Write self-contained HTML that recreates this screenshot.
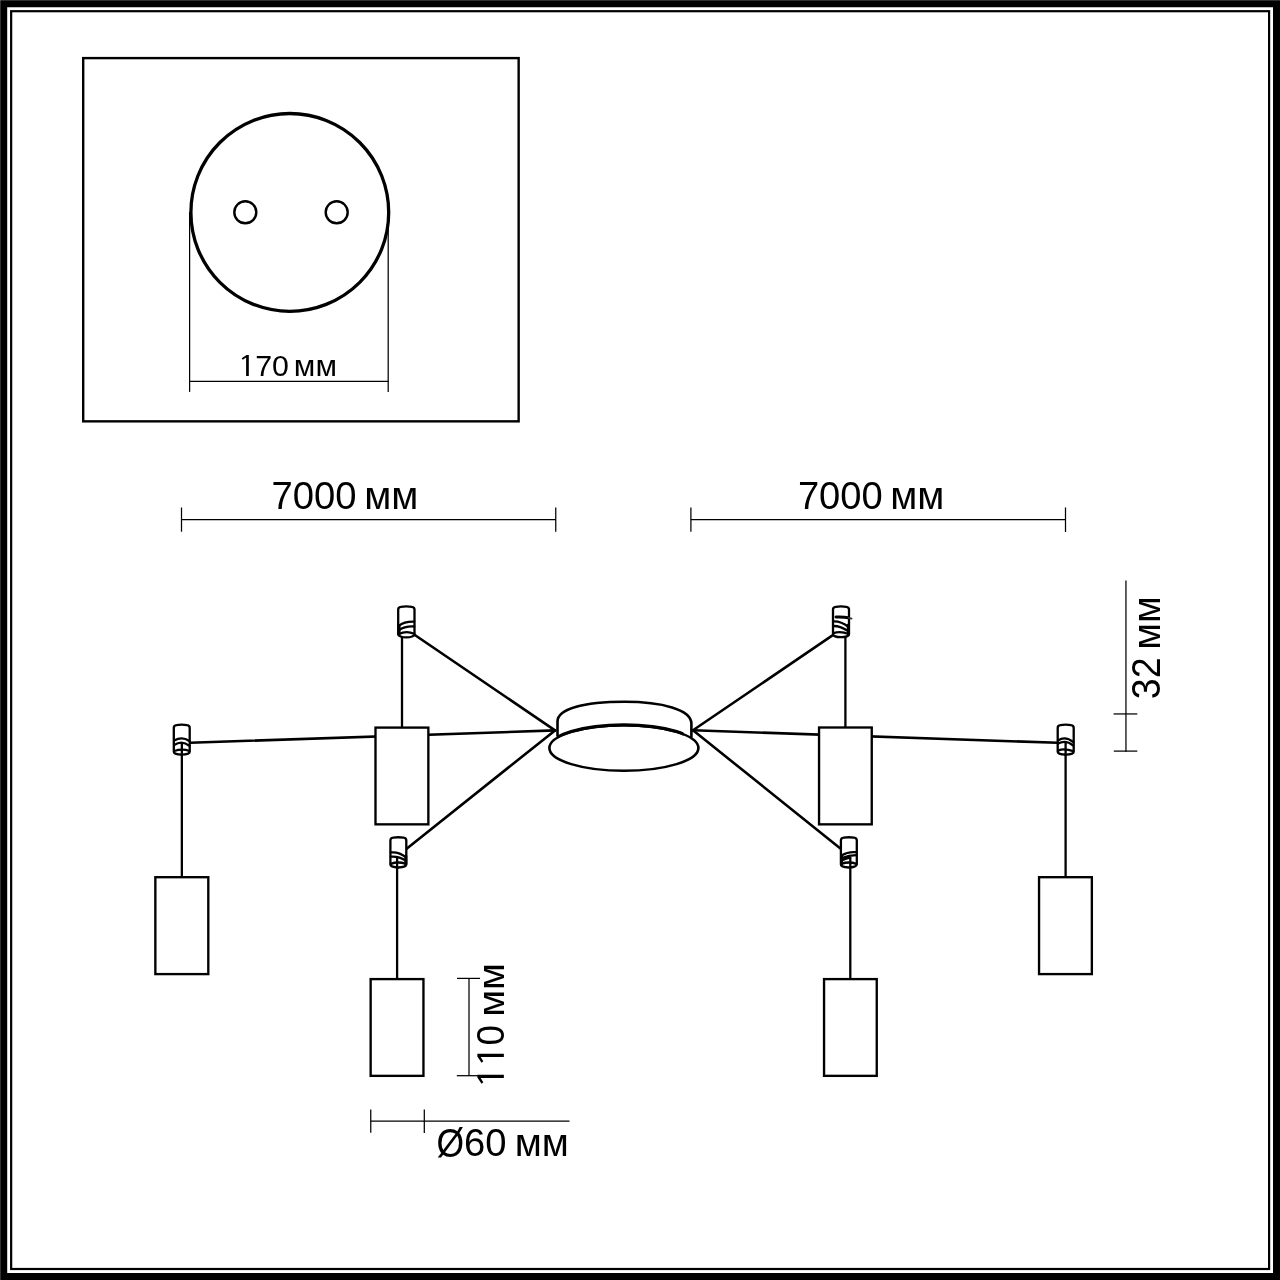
<!DOCTYPE html>
<html lang="ru">
<head>
<meta charset="utf-8">
<title>Схема светильника</title>
<style>
  html, body { margin: 0; padding: 0; background: #fff; }
  body { width: 1280px; height: 1280px; overflow: hidden; }
  svg { display: block; will-change: transform; }
  text { font-family: "Liberation Sans", sans-serif; fill: #000; }
  .m { fill: none; stroke: #000; stroke-width: 2.6; stroke-linecap: round; stroke-linejoin: round; }
  .mt { fill: none; stroke: #000; stroke-width: 2.3; stroke-linecap: round; stroke-linejoin: round; }
  .mw { fill: #fff; stroke: #000; stroke-width: 2.35; stroke-linejoin: miter; }
  .c { fill: none; stroke: #000; stroke-width: 2.3; }
  .d { fill: none; stroke: #000; stroke-width: 1.25; }
</style>
</head>
<body>
<svg width="1280" height="1280" viewBox="0 0 1280 1280">
  <rect x="0" y="0" width="1280" height="1280" fill="#fff"/>

  <!-- outer frame -->
  <path d="M0 0H1280V1280H0Z M7.2 7.15V1273H1273V7.15Z" fill="#000" fill-rule="evenodd"/>
  <rect x="0" y="0" width="1280" height="1" fill="#303030"/>
  <rect x="0" y="0" width="1" height="1280" fill="#333"/>
  <rect x="0" y="0" width="1" height="1" fill="#585858"/>
  <rect x="11.15" y="11.2" width="1257.95" height="1257.8" fill="none" stroke="#000" stroke-width="2.2"/>

  <!-- inset box -->
  <rect x="83.2" y="58.1" width="435.45" height="363.25" fill="none" stroke="#000" stroke-width="2.4"/>

  <!-- inset: top view of the canopy -->
  <line class="d" x1="189.6" y1="212" x2="189.6" y2="391.9"/>
  <line class="d" x1="388.2" y1="212" x2="388.2" y2="391.9"/>
  <line class="d" x1="189.6" y1="381.45" x2="388.2" y2="381.45"/>
  <circle cx="289.8" cy="212.4" r="98.9" fill="none" stroke="#000" stroke-width="3.3"/>
  <circle cx="245.3" cy="212.3" r="11" fill="none" stroke="#000" stroke-width="2.4"/>
  <circle cx="336.7" cy="212.3" r="11" fill="none" stroke="#000" stroke-width="2.4"/>
  <path d="M7.12 -20.90L4.90 -20.90L0.00 -17.60L1.10 -16.20L4.40 -18.30L4.40 0.00L7.12 0.00Z" transform="translate(241.7 375.9)" fill="#000"/>
  <text id="t170" x="255.20" y="375.90" font-size="30.37" textLength="33.72" lengthAdjust="spacingAndGlyphs">70</text>
  <text x="293.85" y="375.75" font-size="29.72" textLength="43.10" lengthAdjust="spacingAndGlyphs">мм</text>

  <!-- top dimensions -->
  <line class="d" x1="181.5" y1="519.7" x2="555.75" y2="519.7"/>
  <line class="d" x1="181.5" y1="507.5" x2="181.5" y2="531.7"/>
  <line class="d" x1="555.75" y1="507.5" x2="555.75" y2="531.8"/>
  <text id="t7a" x="271.55" y="508.75" font-size="38.90" textLength="85.11" lengthAdjust="spacingAndGlyphs">7000</text>
  <text x="364.20" y="508.55" font-size="38.57" textLength="54.10" lengthAdjust="spacingAndGlyphs">мм</text>

  <line class="d" x1="690.9" y1="519.7" x2="1065.5" y2="519.7"/>
  <line class="d" x1="690.9" y1="507.5" x2="690.9" y2="531.7"/>
  <line class="d" x1="1065.5" y1="507.5" x2="1065.5" y2="532"/>
  <text id="t7b" x="797.90" y="508.75" font-size="38.90" textLength="84.84" lengthAdjust="spacingAndGlyphs">7000</text>
  <text x="890.30" y="508.55" font-size="38.57" textLength="54.10" lengthAdjust="spacingAndGlyphs">мм</text>

  <!-- 32 mm dimension -->
  <line class="d" x1="1125.95" y1="580.6" x2="1125.95" y2="751.7"/>
  <line class="d" x1="1113.6" y1="713.95" x2="1137.3" y2="713.95"/>
  <line class="d" x1="1113.8" y1="751.1" x2="1137.3" y2="751.1"/>
  <text id="t32" transform="translate(1159.60 699.15) rotate(-90)" font-size="39.75" textLength="41.72" lengthAdjust="spacingAndGlyphs">32</text>
  <text transform="translate(1159.95 649.75) rotate(-90)" font-size="39.25" textLength="53.61" lengthAdjust="spacingAndGlyphs">мм</text>

  <!-- 110 mm dimension -->
  <line class="d" x1="469" y1="978.4" x2="469" y2="1075.7"/>
  <line class="d" x1="457" y1="978.4" x2="480" y2="978.4"/>
  <line class="d" x1="456.8" y1="1075.7" x2="480" y2="1075.7"/>
  <path d="M9.02 -26.50L6.21 -26.50L0.00 -22.31L1.39 -20.54L5.58 -23.20L5.58 0.00L9.02 0.00Z" transform="translate(503.85 1083.7) rotate(-90)" fill="#000"/>
  <path d="M9.02 -26.50L6.21 -26.50L0.00 -22.31L1.39 -20.54L5.58 -23.20L5.58 0.00L9.02 0.00Z" transform="translate(503.85 1062.7) rotate(-90)" fill="#000"/>
  <text id="t110" transform="translate(504.30 1045.60) rotate(-90)" font-size="39.33" textLength="20.55" lengthAdjust="spacingAndGlyphs">0</text>
  <text transform="translate(503.75 1016.85) rotate(-90)" font-size="37.70" textLength="53.66" lengthAdjust="spacingAndGlyphs">мм</text>

  <!-- diameter 60 dimension -->
  <line class="d" x1="370.75" y1="1121.15" x2="569.5" y2="1121.15"/>
  <line class="d" x1="370.75" y1="1109.4" x2="370.75" y2="1132.7"/>
  <line class="d" x1="424.3" y1="1109.4" x2="424.3" y2="1133"/>
  <text id="t60" x="436.60" y="1156.95" font-size="40.38" textLength="27.56" lengthAdjust="spacingAndGlyphs">Ø</text>
  <text x="464.10" y="1156.35" font-size="39.68" textLength="42.49" lengthAdjust="spacingAndGlyphs">60</text>
  <text x="514.75" y="1156.05" font-size="37.90" textLength="54.16" lengthAdjust="spacingAndGlyphs">мм</text>

  <!-- ===== main drawing ===== -->
  <!-- wires, left -->
  <line class="m" x1="555" y1="730.4" x2="415.2" y2="635.3"/>
  <line class="m" x1="555" y1="730.4" x2="190.2" y2="742.8"/>
  <line class="m" x1="555" y1="730.4" x2="406.3" y2="848.9"/>
  <!-- wires, right -->
  <line class="m" x1="693" y1="730.3" x2="832.1" y2="635.6"/>
  <line class="m" x1="693" y1="730.3" x2="1057.5" y2="742.8"/>
  <line class="m" x1="693" y1="730.3" x2="840.4" y2="848.4"/>

  <!-- vertical cords -->
  <line class="c" x1="402" y1="636" x2="402" y2="727"/>
  <line class="c" x1="845.4" y1="636" x2="845.4" y2="727"/>
  <line class="c" x1="181.85" y1="742.8" x2="181.85" y2="877"/>
  <line class="c" x1="1065.6" y1="742.8" x2="1065.6" y2="877"/>
  <line class="c" x1="397.1" y1="857.8" x2="397.1" y2="978.5"/>
  <line class="c" x1="850.3" y1="857" x2="850.3" y2="978.5"/>

  <!-- shades -->
  <rect class="mw" x="375.5" y="727.6" width="52.85" height="96.75"/>
  <rect class="mw" x="819.05" y="727.5" width="52.7" height="96.85"/>
  <rect class="mw" x="155.35" y="877.2" width="52.95" height="96.9"/>
  <rect class="mw" x="1039.05" y="877.2" width="52.8" height="96.9"/>
  <rect class="mw" x="370.65" y="979.1" width="52.8" height="96.75"/>
  <rect class="mw" x="824.05" y="979.1" width="52.7" height="96.75"/>

  <!-- ceiling canopy -->
  <clipPath id="cpTop"><rect x="557.5" y="715" width="126" height="33"/></clipPath>
  <path class="m" d="M557.5 735.8V721.5C557.5 709.3 582.9 701.8 624.4 701.8C662 701.8 691.4 709.5 691.4 723.5V737"/>
  <ellipse cx="623.9" cy="748" rx="74.5" ry="22.8" fill="none" stroke="#000" stroke-width="2.6"/>
  <ellipse cx="623.9" cy="747.7" rx="74.5" ry="22.8" fill="none" stroke="#000" stroke-width="3.2" clip-path="url(#cpTop)"/>

  <!-- mounts -->
  <g id="mUL" class="mt">
    <path d="M398.20 609.60Q398.20 607.10 400.80 606.80Q406.35 605.90 411.90 606.80Q414.50 607.10 414.50 609.60V634.20A8.15 3.2 0 0 1 398.20 634.20Z" fill="#fff"/>
    <path d="M398.6 625.8Q404.5 621.4 414.2 621.7"/>
    <path d="M399 630.2Q404.5 626 414.2 626.5"/>
    <path d="M398.8 634Q406.5 630.4 414.2 633.8"/>
    <path d="M398.9 626V634" stroke-width="3.4"/>
  </g>
  <g id="mUR" class="mt">
    <path d="M833.00 609.60Q833.00 607.10 835.60 606.80Q841.00 605.90 846.40 606.80Q849.00 607.10 849.00 609.60V634.20A8.00 3.0 0 0 1 833.00 634.20Z" fill="#fff"/>
    <path d="M833.4 621.3Q841 621 848.6 627"/>
    <path d="M833.4 626Q841 626 848.6 631.4"/>
    <path d="M833.4 633.2Q840.5 630.6 848.6 634"/>
    <path d="M836 617Q843 616.6 848.5 617.8" stroke-width="3"/><path d="M848.5 617.8L851.6 618.6" stroke-width="1.8" stroke="#333"/><path d="M848.4 625V634" stroke-width="3.2"/>
  </g>
  <g id="mLL" class="mt">
    <path d="M390.40 840.50Q390.40 838.00 393.00 837.70Q398.35 836.80 403.70 837.70Q406.30 838.00 406.30 840.50V864.60A7.95 2.9 0 0 1 390.40 864.60Z" fill="#fff"/>
    <path d="M390.8 852.4Q399 851.5 406 857.4"/>
    <path d="M390.8 856.6Q399 856 406 860.8"/>
    <path d="M390.8 863.8Q398 861.2 406 863.8"/>
    <path d="M405.8 856V864" stroke-width="3"/>
  </g>
  <g id="mLR" class="mt">
    <path d="M840.90 840.50Q840.90 838.00 843.50 837.70Q848.85 836.80 854.20 837.70Q856.80 838.00 856.80 840.50V864.60A7.95 2.9 0 0 1 840.90 864.60Z" fill="#fff"/>
    <path d="M841.3 855.6Q848 851.4 856.4 852.2"/>
    <path d="M842.6 857.9Q848.6 855.4 856.2 855.2"/>
    <path d="M841.3 860.8Q845 858.6 849.8 857.6"/>
    <path d="M841.3 863.8Q849 861.2 856.4 863.8"/>
    <path d="M841.5 856V864" stroke-width="3"/>
  </g>
  <g id="mFL" class="mt">
    <path d="M173.80 727.90Q173.80 725.40 176.40 725.10Q181.75 724.20 187.10 725.10Q189.70 725.40 189.70 727.90V751.80A7.95 2.9 0 0 1 173.80 751.80Z" fill="#fff"/>
    <path d="M174.2 740.6Q182 735.8 189.4 741"/>
    <path d="M174.2 745Q182 739.8 189.4 745.8"/>
    <path d="M174.2 751Q182.6 748.2 189.4 751"/>
  </g>
  <g id="mFR" class="mt">
    <path d="M1057.70 727.90Q1057.70 725.40 1060.30 725.10Q1065.70 724.20 1071.10 725.10Q1073.70 725.40 1073.70 727.90V751.80A8.00 2.9 0 0 1 1057.70 751.80Z" fill="#fff"/>
    <path d="M1058.1 740.4Q1065.2 735.6 1073.3 742"/>
    <path d="M1058.1 743.6Q1065.6 739.4 1073.3 745.6"/>
    <path d="M1058.1 750.6Q1064 748 1073.3 751.2"/>
  </g>
  <!-- cords visible through the mounts -->
  <line class="c" x1="181.85" y1="743" x2="181.85" y2="756"/>
  <line class="c" x1="1065.6" y1="743" x2="1065.6" y2="756"/>
  <line class="c" x1="397.1" y1="858" x2="397.1" y2="868"/>
  <line class="c" x1="850.3" y1="857" x2="850.3" y2="868"/>
</svg>
</body>
</html>
